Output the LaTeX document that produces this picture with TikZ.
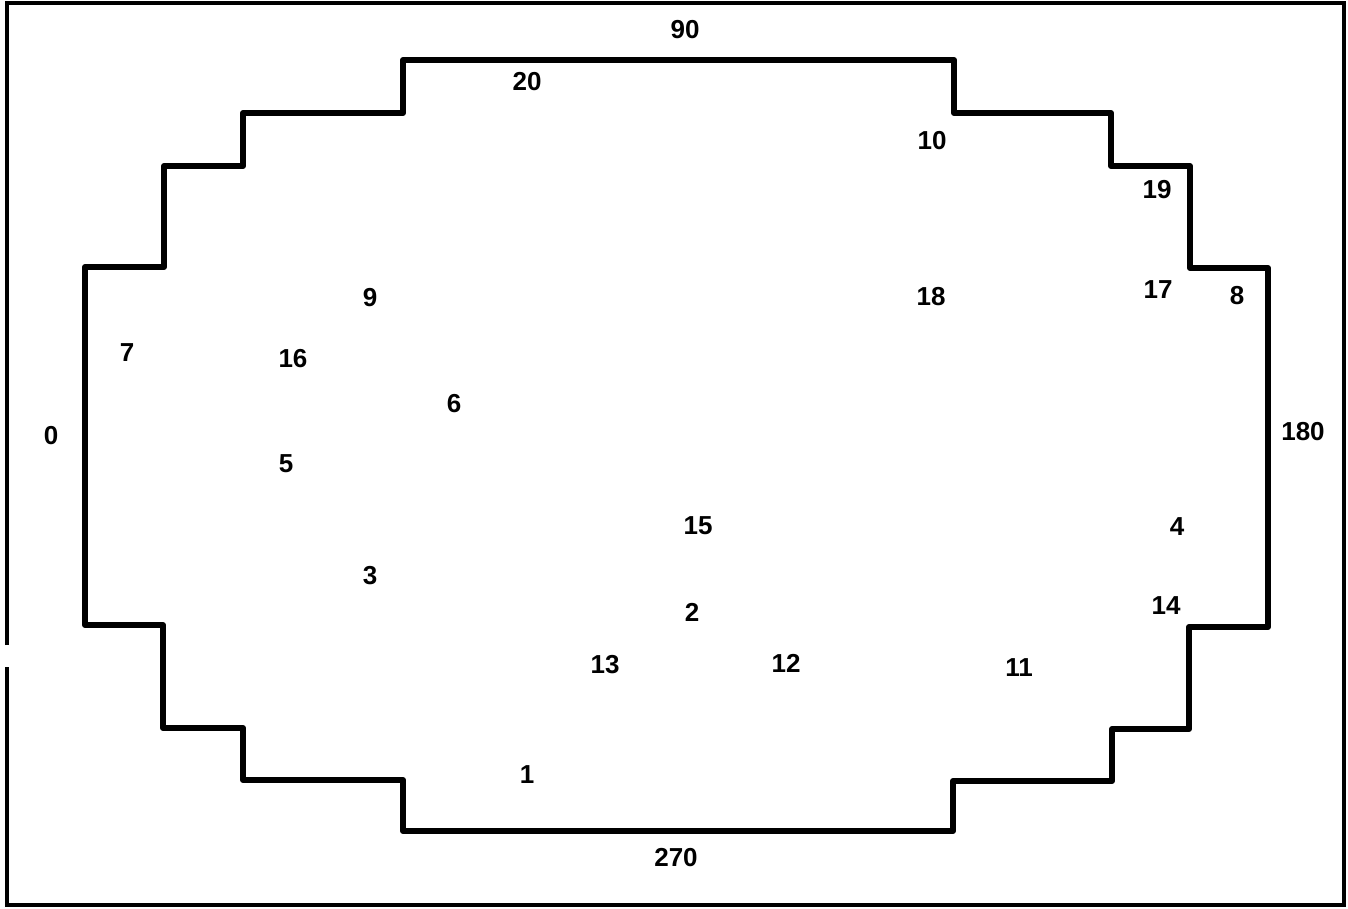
\documentclass[tikz,border=0pt]{standalone}
\usepackage{fontspec}
\setsansfont{Liberation Sans}
\begin{document}
\begin{tikzpicture}[x=0.5pt,y=-0.5pt,
  lbl/.style={font=\sffamily\bfseries\fontsize{13}{15}\selectfont, inner sep=0pt},
  outline/.style={line width=3pt, line join=round},
  frame/.style={line width=2.3pt}]
\useasboundingbox (0,0) rectangle (1348,909);
% outer frame (with gap on the left side)
\draw[frame] (7,645) -- (7,3) -- (1344,3) -- (1344,905) -- (7,905) -- (7,667);
% stepped outline
\draw[outline] (403,60) -- (954,60) -- (954,113) -- (1111,113) -- (1111,166)
  -- (1190,166) -- (1190,268) -- (1268,268) -- (1268,627) -- (1189,627)
  -- (1189,729) -- (1112,729) -- (1112,781) -- (953,781) -- (953,831)
  -- (403,831) -- (403,780) -- (243,780) -- (243,728) -- (163,728)
  -- (163,625) -- (85,625) -- (85,267) -- (164,267) -- (164,166)
  -- (243,166) -- (243,113) -- (403,113) -- cycle;
% labels
\node[lbl] (l90) at (685,30) {90};
\node[lbl] (l20) at (527,82) {20};
\node[lbl] (l10) at (932,141) {10};
\node[lbl] (l19) at (1157,190) {19};
\node[lbl] (l17) at (1158,290) {17};
\node[lbl] (l8) at (1237,296) {8};
\node[lbl] (l18) at (931,297) {18};
\node[lbl] (l9) at (370,298) {9};
\node[lbl] (l7) at (127,353) {7};
\node[lbl] (l16) at (293,359) {16};
\node[lbl] (l6) at (454,404) {6};
\node[lbl] (l0) at (51,436) {0};
\node[lbl] (l180) at (1303,432) {180};
\node[lbl] (l5) at (286,464) {5};
\node[lbl] (l15) at (698,526) {15};
\node[lbl] (l4) at (1177,527) {4};
\node[lbl] (l3) at (370,576) {3};
\node[lbl] (l2) at (692,612) {2};
\node[lbl] (l14) at (1166,606) {14};
\node[lbl] (l13) at (605,665) {13};
\node[lbl] (l12) at (786,663) {12};
\node[lbl] (l11) at (1019,668) {11};
\node[lbl] (l1) at (527,775) {1};
\node[lbl] (l270) at (676,858) {270};
\end{tikzpicture}
\end{document}
